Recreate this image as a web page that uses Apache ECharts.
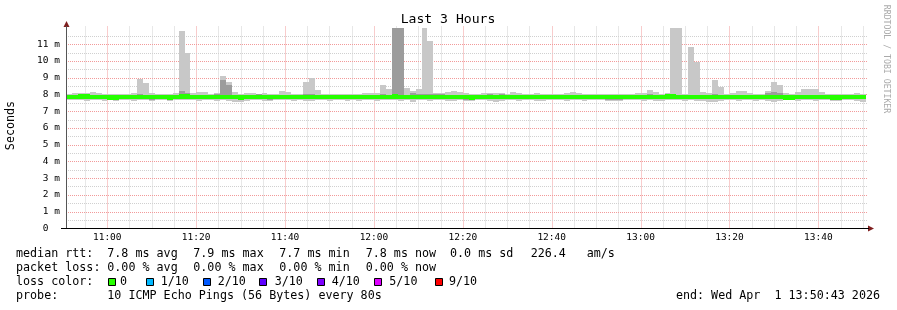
<!DOCTYPE html>
<html><head><meta charset="utf-8">
<script src="https://cdn.jsdelivr.net/npm/echarts@6/dist/echarts.min.js"></script>
<style>html,body{margin:0;padding:0;background:#fff}#c{width:897px;height:310px}</style>
</head><body><div id="c"></div>
<script>
// time in minutes since midnight
const START_MIN = 650 + 43/60;   // 10:50:43
const END_MIN = 830 + 43/60;     // 13:50:43
const STEP_MIN = 80/60;          // 80 s per step
const xLabelMinutes = [660,680,700,720,740,760,780,800,820];
const yMax = 12;

// smoke: outer range of pings (light), inner range (darker), median (green)
const smokeMax = [
8.02,8.07,8.09,8.10,8.15,8.06,8.04,8.04,8.04,8.04,
8.05,8.06,8.90,8.67,8.06,8.04,8.02,8.04,8.06,11.78,
10.48,8.06,8.15,8.15,8.04,8.09,9.08,8.75,8.12,8.04,
8.10,8.07,8.04,8.10,8.04,8.04,8.19,8.15,8.04,8.04,
8.73,8.97,8.27,8.04,8.02,8.02,8.02,8.04,8.04,8.04,
8.06,8.10,8.06,8.55,8.31,12.00,12.00,8.37,8.21,8.31,
12.00,11.18,8.10,8.10,8.15,8.21,8.15,8.10,8.04,8.04,
8.06,8.06,8.10,8.06,8.04,8.15,8.10,8.04,8.04,8.10,
8.04,8.02,8.02,8.04,8.06,8.15,8.06,8.02,8.02,8.02,
8.02,8.02,8.02,8.04,8.02,8.04,8.10,8.10,8.27,8.15,
8.04,8.06,12.00,12.00,8.04,10.82,9.92,8.12,8.10,8.85,
8.43,8.04,8.06,8.21,8.21,8.10,8.04,8.04,8.21,8.73,
8.55,8.06,8.04,8.15,8.31,8.31,8.31,8.15,8.04,8.02,
8.02,8.02,8.04,8.06,8.02];
const smokeMin = [
7.67,7.65,7.65,7.63,7.65,7.65,7.63,7.65,7.59,7.65,
7.65,7.63,7.65,7.65,7.61,7.65,7.65,7.59,7.65,7.67,
7.65,7.65,7.63,7.65,7.65,7.63,7.65,7.63,7.57,7.53,
7.59,7.65,7.65,7.63,7.63,7.65,7.65,7.65,7.63,7.65,
7.59,7.63,7.65,7.65,7.61,7.65,7.65,7.63,7.65,7.61,
7.65,7.65,7.63,7.65,7.65,7.67,7.59,7.65,7.57,7.65,
7.65,7.63,7.65,7.65,7.59,7.63,7.65,7.61,7.63,7.65,
7.65,7.59,7.57,7.63,7.65,7.65,7.63,7.65,7.65,7.63,
7.61,7.65,7.65,7.65,7.63,7.65,7.65,7.63,7.65,7.65,
7.65,7.63,7.61,7.63,7.65,7.65,7.65,7.63,7.65,7.59,
7.59,7.65,7.65,7.65,7.61,7.65,7.59,7.63,7.57,7.57,
7.63,7.65,7.65,7.63,7.65,7.65,7.63,7.65,7.59,7.57,
7.63,7.65,7.65,7.59,7.65,7.65,7.63,7.65,7.65,7.63,
7.61,7.65,7.65,7.63,7.57];
const innerLow = [
7.72,7.70,7.72,7.72,7.72,7.72,7.70,7.72,7.70,7.72,
7.72,7.72,7.72,7.72,7.68,7.70,7.72,7.70,7.72,7.72,
7.72,7.72,7.72,7.72,7.72,7.72,7.70,7.70,7.70,7.68,
7.70,7.72,7.72,7.72,7.68,7.72,7.72,7.72,7.70,7.72,
7.70,7.70,7.72,7.72,7.70,7.72,7.72,7.72,7.72,7.70,
7.72,7.72,7.70,7.72,7.72,7.74,7.72,7.72,7.70,7.72,
7.72,7.72,7.70,7.70,7.70,7.72,7.72,7.68,7.68,7.72,
7.72,7.70,7.70,7.70,7.72,7.72,7.72,7.72,7.72,7.70,
7.70,7.72,7.72,7.72,7.72,7.72,7.72,7.72,7.72,7.72,
7.72,7.68,7.68,7.68,7.72,7.72,7.72,7.72,7.72,7.70,
7.70,7.72,7.72,7.72,7.72,7.72,7.70,7.72,7.70,7.70,
7.72,7.72,7.72,7.72,7.72,7.72,7.72,7.72,7.70,7.70,
7.70,7.72,7.72,7.70,7.72,7.72,7.72,7.72,7.72,7.70,
7.70,7.72,7.72,7.72,7.70];
const innerHigh = [
7.97,7.98,7.99,7.99,7.99,7.97,7.97,7.96,7.96,7.97,
7.97,7.97,8.00,7.99,7.97,7.97,7.96,7.96,7.97,8.20,
8.10,7.98,7.98,7.97,7.97,8.04,8.85,8.55,7.97,7.95,
7.98,7.98,8.00,7.97,7.96,7.98,7.99,7.98,7.97,7.97,
8.00,8.02,7.99,7.97,7.96,7.97,7.97,7.97,7.98,7.97,
7.98,7.99,7.97,8.00,7.99,12.00,12.00,7.98,8.07,8.00,
8.00,8.00,8.04,8.04,7.99,7.99,7.99,7.97,7.96,7.97,
7.99,8.02,7.99,8.02,7.97,7.99,7.98,7.97,7.97,7.98,
7.97,7.97,7.97,7.97,7.98,7.99,7.98,7.97,7.97,7.97,
7.97,7.96,7.96,7.98,7.97,7.98,7.99,7.99,8.00,7.98,
7.98,8.00,8.00,7.99,7.97,7.99,7.98,7.98,7.97,8.00,
7.98,7.97,7.98,7.99,7.99,7.97,7.97,7.98,8.07,8.12,
8.07,7.96,7.96,7.98,7.99,7.99,7.98,7.98,7.97,7.96,
7.96,7.97,7.97,7.98,7.96];
const median = [
7.83,7.86,7.88,7.88,7.85,7.84,7.84,7.82,7.82,7.85,
7.85,7.85,7.86,7.86,7.84,7.84,7.83,7.82,7.85,7.87,
7.87,7.86,7.84,7.83,7.85,7.86,7.85,7.83,7.83,7.81,
7.84,7.85,7.86,7.84,7.83,7.86,7.86,7.85,7.84,7.85,
7.84,7.86,7.85,7.84,7.83,7.84,7.85,7.84,7.85,7.84,
7.85,7.85,7.83,7.84,7.85,7.87,7.85,7.83,7.84,7.86,
7.86,7.86,7.85,7.85,7.85,7.85,7.85,7.83,7.82,7.84,
7.84,7.83,7.85,7.86,7.84,7.85,7.85,7.84,7.84,7.83,
7.84,7.85,7.85,7.84,7.84,7.86,7.85,7.84,7.85,7.85,
7.84,7.84,7.83,7.85,7.85,7.86,7.85,7.85,7.84,7.84,
7.86,7.87,7.87,7.86,7.85,7.85,7.84,7.85,7.84,7.85,
7.84,7.84,7.85,7.85,7.85,7.84,7.84,7.85,7.86,7.86,
7.84,7.82,7.82,7.84,7.85,7.85,7.85,7.84,7.84,7.82,
7.82,7.84,7.84,7.85,7.83];

const lossLabels = ['0','1/10','2/10','3/10','4/10','5/10','9/10'];
const lossColors = ['#26ff00','#00b8ff','#0059ff','#5e00ff','#7e00ff','#dd00ff','#ff0000'];

const FONT = 'DejaVu Sans Mono';
const chart = echarts.init(document.getElementById('c'), null, {renderer:'canvas'});

const data = median.map((m, k) => [START_MIN + k*STEP_MIN, smokeMin[k], smokeMax[k], innerLow[k], innerHigh[k], m]);
const MED_HALF = 0.13;

function bandSeries(loIdx, hiIdx, color, z, isMedian) {
  return {
    type:'custom', data, z, silent:true, animation:false, clip:true,
    renderItem(params, api) {
      const t0 = api.value(0), t1 = t0 + STEP_MIN;
      let lo, hi;
      if (isMedian) { lo = api.value(5) - MED_HALF; hi = api.value(5) + MED_HALF; }
      else { lo = api.value(loIdx); hi = api.value(hiIdx); }
      hi = Math.min(hi, yMax);
      const a = api.coord([t0, lo]), b = api.coord([t1, hi]);
      const x0 = Math.round(a[0]), x1 = Math.round(b[0]);
      const y0 = Math.round(a[1]), y1 = Math.round(b[1]);
      return {type:'rect', shape:{x:x0, y:y1, width:x1-x0, height:Math.max(1, y0-y1)},
              style:{fill:color}};
    }
  };
}

// grid line definitions: [value, vertical?, major?]
const gridDefs = [];
for (let m = 655; m < END_MIN; m += 5) gridDefs.push([m, 1, m % 20 === 0 ? 1 : 0]);
for (let v = 0.5; v < yMax; v += 0.5) gridDefs.push([v, 0, Number.isInteger(v) ? 1 : 0]);

const gridSeries = {
  type:'custom', data:gridDefs, z:1, silent:true, animation:false,
  renderItem(params, api) {
    const cs = params.coordSys;
    const v = api.value(0), vert = api.value(1), major = api.value(2);
    const color = major ? '#f29a9a' : '#d0d0d0';
    let shape;
    if (vert) {
      const x = Math.round(api.coord([v, 0])[0]) + 0.5;
      shape = {x1:x, y1:cs.y - 1, x2:x, y2:cs.y + cs.height};
    } else {
      const y = Math.round(api.coord([START_MIN, v])[1]) + 0.5;
      shape = {x1:cs.x, y1:y, x2:cs.x + cs.width + 2, y2:y};
    }
    return {type:'line', shape, style:{stroke:color, lineWidth:1, lineDash:[1,1]}};
  }
};

function hhmm(v){ const h=Math.floor(v/60), m=Math.round(v%60); return String(h).padStart(2,'0')+':'+String(m).padStart(2,'0'); }

function txt(x, y, s, opts={}) {
  return {type:'text', x, y, silent:true, rotation:opts.rot||0,
    style:{text:s, fill:opts.fill||'#000', font:(opts.size||11.7)+'px "'+FONT+'"',
      align:opts.align||'left', verticalAlign:'middle'}};
}

const graphics = [];
graphics.push(txt(448, 20, 'Last 3 Hours', {size:13.1, align:'center'}));
graphics.push(txt(10.5, 125.5, 'Seconds', {size:11.7, align:'center', rot:Math.PI/2}));
graphics.push(txt(886, 59, 'RRDTOOL / TOBI OETIKER', {size:8.2, align:'center', rot:-Math.PI/2, fill:'#aaaaaa'}));
// legend rows
const r1 = 254.3, r2 = 268.3, r3 = 282.3, r4 = 296.3;
[['median rtt:',16],['7.8 ms avg',107.3],['7.9 ms max',193.3],['7.7 ms min',279.3],['7.8 ms now',365.7],['0.0 ms sd',450],['226.4',530.7],['am/s',586.7]]
  .forEach(([s,x]) => graphics.push(txt(x, r1, s)));
[['packet loss:',16],['0.00 % avg',107.3],['0.00 % max',193.3],['0.00 % min',279.3],['0.00 % now',365.7]]
  .forEach(([s,x]) => graphics.push(txt(x, r2, s)));
graphics.push(txt(16, r3, 'loss color:'));
const boxX = [108.3,145.7,202.7,259.3,316.7,374,435.3];
const labX = [120,160.7,217.7,274.7,331.7,389.3,449];
lossLabels.forEach((l,i) => {
  graphics.push({type:'rect', silent:true, shape:{x:Math.round(boxX[i])+0.5, y:278.5, width:7, height:7},
    style:{fill:lossColors[i], stroke:'#000', lineWidth:1}});
  graphics.push(txt(labX[i], r3, l));
});
graphics.push(txt(16, r4, 'probe:'));
graphics.push(txt(107.3, r4, '10 ICMP Echo Pings (56 Bytes) every 80s'));
graphics.push(txt(880, r4, 'end: Wed Apr  1 13:50:43 2026', {align:'right'}));
// axis lines and arrows
graphics.push({type:'line', silent:true, z:100, shape:{x1:61, y1:228.5, x2:869, y2:228.5}, style:{stroke:'#000', lineWidth:1}});
graphics.push({type:'line', silent:true, z:100, shape:{x1:66.5, y1:228, x2:66.5, y2:26}, style:{stroke:'#555', lineWidth:1}});
graphics.push({type:'polygon', silent:true, shape:{points:[[66.5,21],[63.5,27],[69.5,27]]}, style:{fill:'#7f1f1f'}});
graphics.push({type:'polygon', silent:true, shape:{points:[[874,228.5],[868,225.5],[868,231.5]]}, style:{fill:'#7f1f1f'}});

chart.setOption({
  animation:false,
  backgroundColor:'#fff',
  grid:{left:66, right:31, top:27.5, bottom:81.7, containLabel:false},
  xAxis:{type:'value', min:START_MIN, max:END_MIN,
    splitLine:{show:false}, axisTick:{show:false}, axisLine:{show:false},
    axisLabel:{customValues:xLabelMinutes, formatter:hhmm, fontFamily:FONT, fontSize:9.5, color:'#000', margin:4}},
  yAxis:{type:'value', min:0, max:yMax, interval:1,
    splitLine:{show:false}, axisTick:{show:false}, axisLine:{show:false},
    axisLabel:{formatter:v => v===0 ? '0  ' : (v>=yMax ? '' : v+' m'), fontFamily:FONT, fontSize:9.5, color:'#000', margin:6}},
  series:[
    gridSeries,
    bandSeries(1, 2, '#c8c8c8', 3, false),
    bandSeries(3, 4, '#9c9c9c', 4, false),
    bandSeries(0, 0, '#26ff00', 5, true)
  ],
  graphic:{elements:graphics}
});
</script></body></html>
